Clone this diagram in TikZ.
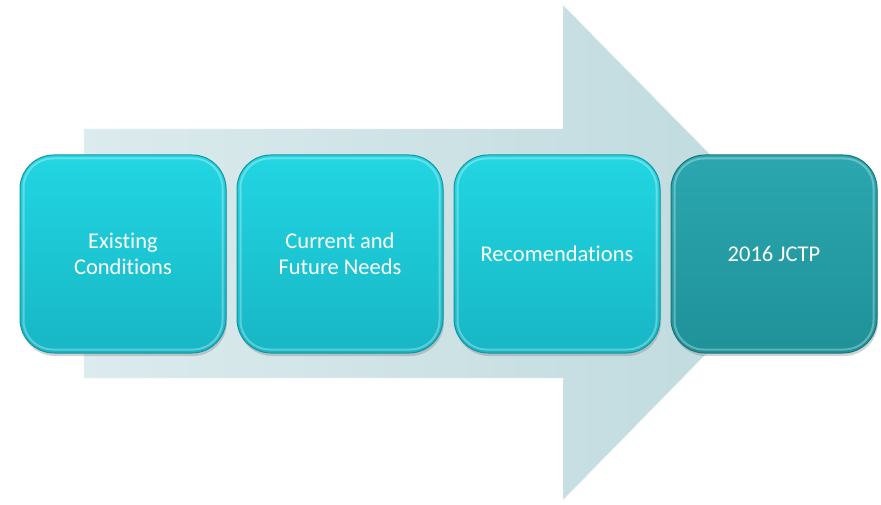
\documentclass[tikz,border=0pt]{standalone}
\usepackage{fontspec}
\setsansfont{Carlito}[Ligatures=NoCommon]
\usetikzlibrary{positioning,shadows}

\definecolor{arrowlight}{HTML}{DCEBED}
\definecolor{arrowdark}{HTML}{BDD9DD}
\definecolor{stagetop}{HTML}{22D6E2}
\definecolor{stagebot}{HTML}{17B6C5}
\definecolor{stageline}{HTML}{1496A2}
\definecolor{lasttop}{HTML}{2BA7AF}
\definecolor{lastbot}{HTML}{1F9199}
\definecolor{lastline}{HTML}{16787F}

\tikzset{
  stage/.style={rounded corners=34pt, minimum width=206pt, minimum height=198pt,
    inner sep=0pt, align=center, text=white, line width=1pt,
    font=\sffamily\fontsize{22.5}{26}\selectfont,
    draw=stageline, top color=stagetop, bottom color=stagebot,
    drop shadow={shadow xshift=1pt, shadow yshift=-3pt, opacity=0.35}},
  laststage/.style={stage, draw=lastline, top color=lasttop, bottom color=lastbot},
  rim/.style={rounded corners=29pt, draw=white, line width=2pt, opacity=0.3}
}

\begin{document}
\begin{tikzpicture}[x=1pt,y=-1pt]
    \useasboundingbox (0,0) rectangle (881,505);

    % big arrow behind the stages
    \draw[white!70!arrowdark, left color=arrowlight, right color=arrowdark]
        (84,129) -- (563,129) -- (563,5) -- (806,252) -- (563,500) -- (563,378) -- (84,378) -- cycle;

    % the four stages
    \node[stage] (exist) at (123,254) {Existing\\Conditions};
    \node[stage, right=10pt of exist] (needs) {Current and\\Future Needs};
    \node[stage, right=10pt of needs] (recs) {Recomendations};
    \node[laststage, right=10pt of recs] (jctp) {2016 JCTP};

    % glossy inner edge
    \foreach \n in {exist,needs,recs,jctp}
        \draw[rim] ([shift={(4pt,-4pt)}]\n.north west) rectangle ([shift={(-4pt,4pt)}]\n.south east);
\end{tikzpicture}
\end{document}
